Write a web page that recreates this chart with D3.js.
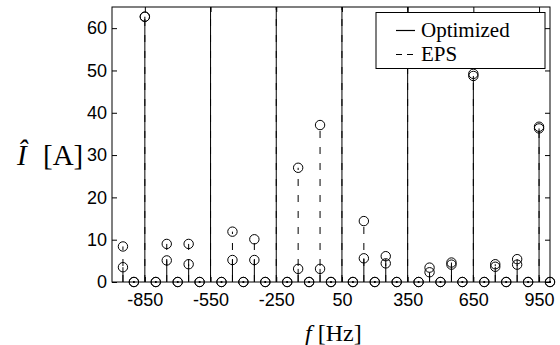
<!DOCTYPE html>
<html>
<head>
<meta charset="utf-8">
<script src="https://cdnjs.cloudflare.com/ajax/libs/d3/7.8.5/d3.min.js"></script>
<style>
	body { margin: 0; background: #fff; }
	.tick text { font-family: "Liberation Sans", Arial, sans-serif; font-size: 18px; fill: #000; }
	.lbl { font-family: "Liberation Serif", "Times New Roman", serif; fill: #000; }
</style>
</head>
<body>
<div class="graph"></div>
<script>
// harmonic frequencies, 50 Hz steps
var freqs = [-950, -900, -850, -800, -750, -700, -650, -600, -550, -500,
	-450, -400, -350, -300, -250, -200, -150, -100, -50, 0,
	50, 100, 150, 200, 250, 300, 350, 400, 450, 500,
	550, 600, 650, 700, 750, 800, 850, 900, 950, 1000];

// current amplitudes [A] - values above 65 run off the top of the plot
var optimized = [3.5, 0, 62.7, 0, 5.1, 0, 4.2, 0, 90, 0,
	5.2, 0, 5.2, 0, 110, 0, 3.1, 0, 3.1, 0,
	400, 0, 5.6, 0, 4.4, 0, 95, 0, 2.3, 0,
	4.1, 0, 48.7, 0, 3.6, 0, 4.1, 0, 36.3, 0];
var eps = [8.4, 0, 62.7, 0, 9.0, 0, 9.0, 0, 90, 0,
	11.9, 0, 10.1, 0, 110, 0, 27.0, 0, 37.1, 0,
	400, 0, 14.4, 0, 6.1, 0, 95, 0, 3.4, 0,
	4.6, 0, 49.2, 0, 4.2, 0, 5.4, 0, 36.7, 0];

var xTicks = [-850, -550, -250, 50, 350, 650, 950];
var yTicks = [0, 10, 20, 30, 40, 50, 60];
var seriesNames = ["Optimized", "EPS"];

var drawChart = function () {
	var W = 560, H = 345,
		margin = {top: 7, right: 10, bottom: 63, left: 112},
		width = W - margin.left - margin.right,
		height = H - margin.top - margin.bottom;

	var svg = d3.select(".graph").append("svg")
		.attr("width", W)
		.attr("height", H);

	var g = svg.append("g")
		.attr("transform", "translate(" + margin.left + "," + margin.top + ")");

	var x = d3.scaleLinear().domain([-1000, 1000]).range([0, width]);
	var y = d3.scaleLinear().domain([0, 65]).range([height, 0]);

	//plain hyphen like the original, not the unicode minus
	var plain = function (d) { return String(d); };

	//clip for stems that go off the top
	svg.append("clipPath").attr("id", "plotclip")
		.append("rect").attr("width", width).attr("height", height);

	//axes, ticks pointing inward like matlab
	g.append("g")
		.attr("transform", "translate(0," + height + ")")
		.call(d3.axisBottom(x).tickValues(xTicks).tickFormat(plain)
			.tickSizeInner(-5).tickSizeOuter(0).tickPadding(11));
	g.append("g")
		.call(d3.axisTop(x).tickValues(xTicks).tickSizeInner(-5).tickSizeOuter(0).tickFormat(""));
	g.append("g")
		.call(d3.axisLeft(y).tickValues(yTicks).tickFormat(plain)
			.tickSizeInner(-5).tickSizeOuter(0).tickPadding(5));
	g.append("g")
		.attr("transform", "translate(" + width + ",0)")
		.call(d3.axisRight(y).tickValues(yTicks).tickSizeInner(-5).tickSizeOuter(0).tickFormat(""));
	g.selectAll(".domain").remove();
	g.selectAll(".tick line").attr("stroke", "#000");

	//stems
	var series = [
		{name: seriesNames[1], values: eps, dash: "7,9"},
		{name: seriesNames[0], values: optimized, dash: null}
	];

	series.forEach(function (s) {
		var pts = freqs.map(function (f, i) { return {f: f, v: s.values[i]}; });

		g.append("g").attr("clip-path", "url(#plotclip)")
			.selectAll("line")
			.data(pts.filter(function (d) { return d.v > 0; }))
			.enter().append("line")
			.attr("x1", function (d) { return x(d.f); })
			.attr("x2", function (d) { return x(d.f); })
			.attr("y1", y(0))
			.attr("y2", function (d) { return y(d.v); })
			.attr("stroke", "#000")
			.attr("stroke-width", 1)
			.attr("stroke-dasharray", s.dash);

		//markers only where the point is inside the y range
		var inside = pts.filter(function (d) { return d.v <= 65; });
		g.append("g").selectAll("circle")
			.data(inside)
			.enter().append("circle")
			.attr("cx", function (d) { return x(d.f); })
			.attr("cy", function (d) { return y(d.v); })
			.attr("r", 4.7)
			.attr("fill", "none")
			.attr("stroke", "#000")
			.attr("stroke-width", 1);

		//zero length stems leave a dot
		g.append("g").selectAll("circle")
			.data(pts.filter(function (d) { return d.v === 0; }))
			.enter().append("circle")
			.attr("cx", function (d) { return x(d.f); })
			.attr("cy", y(0))
			.attr("r", 0.9)
			.attr("fill", "#000");
	});

	//box
	g.append("rect")
		.attr("width", width)
		.attr("height", height)
		.attr("fill", "none")
		.attr("stroke", "#000")
		.attr("stroke-width", 1);

	//legend
	var leg = g.append("g").attr("transform", "translate(264,5.5)");
	leg.append("rect")
		.attr("width", 169)
		.attr("height", 56)
		.attr("fill", "#fff")
		.attr("stroke", "#000")
		.attr("stroke-width", 1);
	series.slice().reverse().forEach(function (s, i) {
		leg.append("line")
			.attr("x1", 20).attr("x2", 39)
			.attr("y1", 18 + i * 24).attr("y2", 18 + i * 24)
			.attr("stroke", "#000")
			.attr("stroke-width", 1.2)
			.attr("stroke-dasharray", s.dash ? "6,5" : null);
		leg.append("text")
			.attr("class", "lbl")
			.attr("x", 45)
			.attr("y", 24 + i * 24)
			.style("font-size", "21px")
			.text(s.name);
	});

	//axis labels
	var xl = svg.append("text")
		.attr("class", "lbl")
		.attr("x", 305)
		.attr("y", 341)
		.style("font-size", "24px");
	xl.append("tspan").style("font-style", "italic").text("f");
	xl.append("tspan").attr("dx", 6).text("[Hz]");

	svg.append("text")
		.attr("class", "lbl")
		.attr("x", 17)
		.attr("y", 165)
		.style("font-size", "29px")
		.style("font-style", "italic")
		.text("Î");
	svg.append("text")
		.attr("class", "lbl")
		.attr("x", 43)
		.attr("y", 165)
		.style("font-size", "29px")
		.text("[A]");
};

window.onload = drawChart;
</script>
</body>
</html>
